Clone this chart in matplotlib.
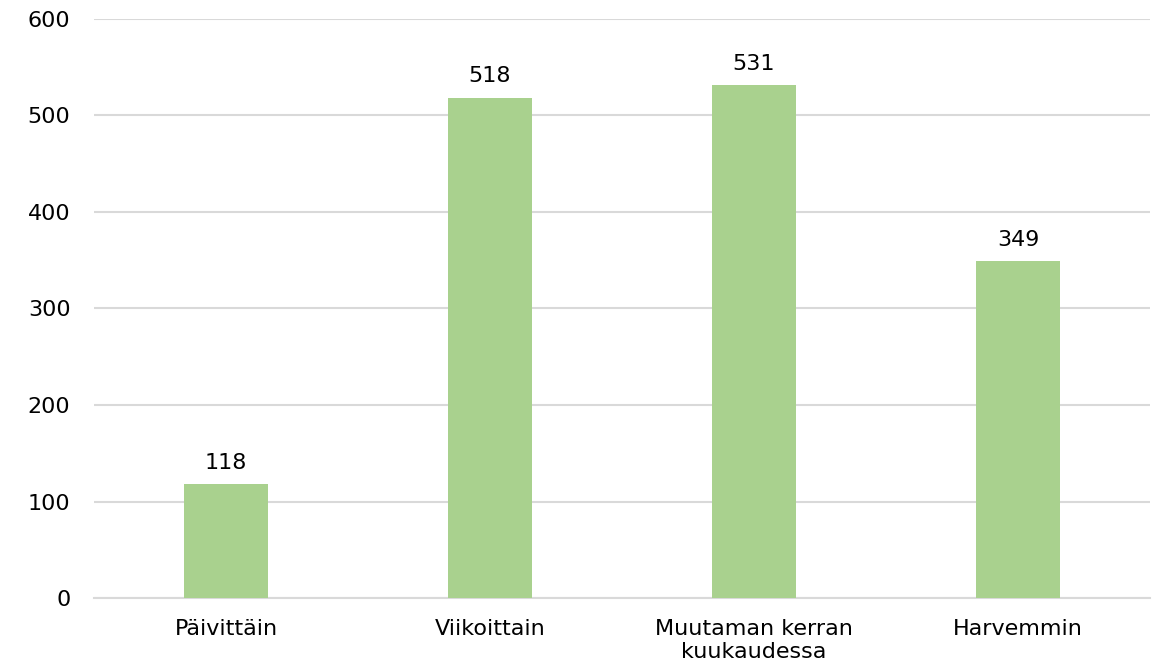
import matplotlib.pyplot as plt
import numpy as np

# --- Datos ---
categories = ['Päivittäin', 'Viikoittain', 'Muutaman kerran\nkuukaudessa', 'Harvemmin']
values = [118, 518, 531, 349]
yticks = [0, 100, 200, 300, 400, 500, 600]

bar_color = '#A9D18E'
grid_color = '#D9D9D9'

fig = plt.figure(figsize=(11.61, 6.69), dpi=100)
ax = fig.add_axes([0.081, 0.106, 0.9095, 0.866])

x = np.arange(len(categories))
ax.bar(x, values, width=0.315, color=bar_color, zorder=3)

for xi, v in zip(x, values):
    ax.text(xi, v + 12, str(v), ha='center', va='bottom', fontsize=16, color='#000000')

ax.set_xlim(-0.5, len(categories) - 0.5)
ax.set_ylim(0, 600)
ax.set_yticks(yticks)
ax.set_xticks(x)
ax.set_xticklabels(categories, fontsize=16, linespacing=1.2)
ax.tick_params(axis='y', labelsize=16, length=0, pad=17)
ax.tick_params(axis='x', length=0, pad=15)

ax.yaxis.grid(True, color=grid_color, linewidth=1.5, zorder=0)
for side in ['top', 'right', 'left']:
    ax.spines[side].set_visible(False)
ax.spines['bottom'].set_color(grid_color)
ax.spines['bottom'].set_linewidth(1.5)

fig.savefig('out.png', dpi=100)
